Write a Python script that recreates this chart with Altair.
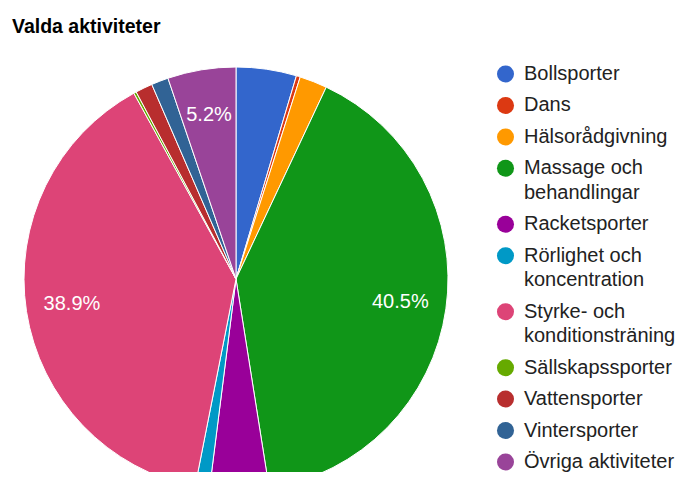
import altair as alt
import pandas as pd

# ---- data ----
categories = [
    "Bollsporter", "Dans", "Hälsorådgivning", "Massage och behandlingar",
    "Racketsporter", "Rörlighet och koncentration", "Styrke- och konditionsträning",
    "Sällskapssporter", "Vattensporter", "Vintersporter", "Övriga aktiviteter",
]
values = [4.6, 0.3, 2.1, 40.5, 4.5, 1.1, 38.9, 0.2, 1.3, 1.3, 5.2]
legend_lines = [
    ["Bollsporter"], ["Dans"], ["Hälsorådgivning"], ["Massage och", "behandlingar"],
    ["Racketsporter"], ["Rörlighet och", "koncentration"], ["Styrke- och", "konditionsträning"],
    ["Sällskapssporter"], ["Vattensporter"], ["Vintersporter"], ["Övriga aktiviteter"],
]
colors = ["#3366cc", "#dc3912", "#ff9900", "#109618", "#990099", "#0099c6",
          "#dd4477", "#66aa00", "#b82e2e", "#316395", "#994499"]

FONT = "Liberation Sans"

pie_df = pd.DataFrame({"cat": categories, "value": values, "idx": list(range(len(categories)))})

# legend table: one row per text line, position in "line units"
GAP = 0.2837
rows = []
lines_before = 0
for i, (cat, lines) in enumerate(zip(categories, legend_lines)):
    for j, line in enumerate(lines):
        rows.append({"cat": cat, "line": line, "first": j == 0,
                     "pos": lines_before + j + GAP * i})
    lines_before += len(lines)
legend_df = pd.DataFrame(rows)

color = alt.Color("cat:N", scale=alt.Scale(domain=categories, range=colors), legend=None)

CX, CY, R = 228, 231, 212

base = alt.Chart(pie_df).encode(
    theta=alt.Theta("value:Q", stack=True),
    order=alt.Order("idx:Q"),
    x=alt.value(CX),
    y=alt.value(CY),
)
arcs = base.mark_arc(radius=R, stroke="white", strokeWidth=1).encode(color=color)
labels = base.transform_joinaggregate(total="sum(value)").transform_calculate(
    label="datum.value / datum.total >= 0.05 ? format(datum.value / datum.total, '.1%') : ''"
).mark_text(radius=166, fontSize=20, font=FONT, fill="white").encode(
    text="label:N", detail="cat:N"
)

ly = alt.Y("pos:Q", scale=alt.Scale(domain=[-1.061, 16.245], reverse=True, zero=False, nice=False), axis=None)

leg_circles = alt.Chart(legend_df).transform_filter("datum.first").mark_circle(
    size=290, opacity=1
).encode(x=alt.value(497.5), y=ly, color=color)

leg_text = alt.Chart(legend_df).mark_text(
    align="left", baseline="middle", fontSize=20, font=FONT, color="#222222"
).encode(x=alt.value(516), y=ly, text="line:N")

chart = alt.layer(arcs, labels, leg_circles, leg_text).properties(
    width=671,
    height=424,
    title=alt.TitleParams(
        "Valda aktiviteter", anchor="start", frame="group", fontSize=19.5,
        fontWeight="bold", font=FONT, color="#000000", offset=17,
        baseline="alphabetic", dx=4, dy=21,
    ),
    autosize=alt.AutoSizeParams(type="none"),
    padding={"left": 0, "top": 40, "right": 0, "bottom": 0},
).configure_view(stroke=None)

chart.save("out.html", embed_options={"renderer": "svg", "actions": False})
